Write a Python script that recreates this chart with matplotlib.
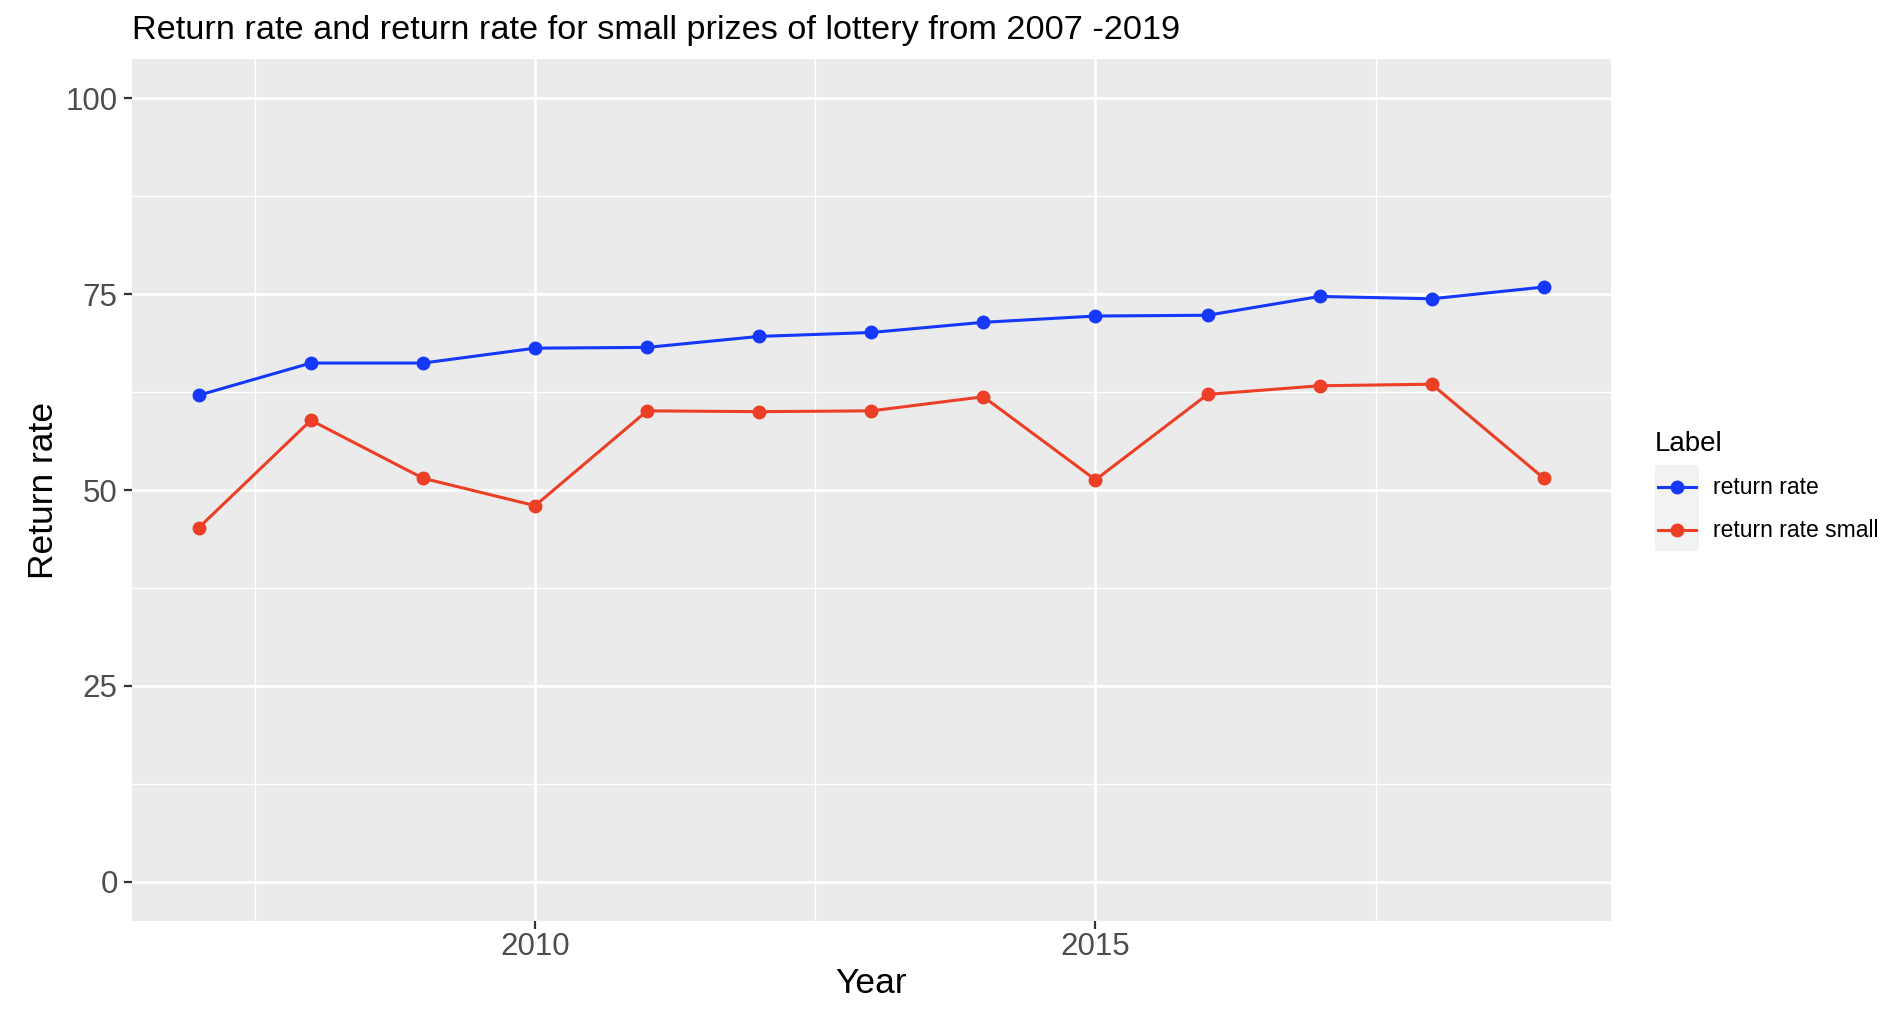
import matplotlib
matplotlib.use("Agg")
import matplotlib.pyplot as plt
from matplotlib.lines import Line2D
from matplotlib.patches import Rectangle
from matplotlib.legend_handler import HandlerBase

plt.rcParams["font.family"] = ["Liberation Sans", "DejaVu Sans"]

# data
years = [2007, 2008, 2009, 2010, 2011, 2012, 2013, 2014, 2015, 2016, 2017, 2018, 2019]
return_rate = [62.1, 66.2, 66.2, 68.1, 68.2, 69.6, 70.1, 71.4, 72.2, 72.3, 74.7, 74.4, 75.9]
return_rate_small = [45.2, 58.9, 51.5, 48.0, 60.1, 60.0, 60.1, 61.9, 51.3, 62.2, 63.3, 63.5, 51.5]
labels = ["return rate", "return rate small"]
colors = ["#1538FB", "#EC3F26"]


# ggplot-like legend key: grey box, line across, point in the middle
class KeyHandler(HandlerBase):
    def create_artists(self, legend, orig_handle, xdescent, ydescent, width, height, fontsize, trans):
        bg = Rectangle((-xdescent, -ydescent), width, height, facecolor="#F2F2F2",
                       edgecolor="none", transform=trans)
        yc = -ydescent + height / 2
        x0 = -xdescent
        ln = Line2D([x0 + 0.07 * width, x0 + 0.93 * width], [yc, yc],
                    color=orig_handle.get_color(), lw=2.2, transform=trans)
        mk = Line2D([x0 + width / 2], [yc], ls="none", marker="o", ms=9,
                    color=orig_handle.get_color(), transform=trans)
        return [bg, ln, mk]


fig = plt.figure(figsize=(18.92, 10.10), dpi=100)
ax = fig.add_axes([131.6 / 1892, 1 - 921 / 1010, (1611 - 131.6) / 1892, (921 - 59) / 1010])
ax.set_facecolor("#EBEBEB")

lines = []
for vals, c in zip([return_rate, return_rate_small], colors):
    l, = ax.plot(years, vals, color=c, lw=2.2, marker="o", ms=9, zorder=3)
    lines.append(l)

ax.set_xlim(2006.4, 2019.6)
ax.set_ylim(-5, 105)
ax.set_xticks([2010, 2015])
ax.set_yticks([0, 25, 50, 75, 100])
ax.set_xticks([2007.5, 2012.5, 2017.5], minor=True)
ax.set_yticks([12.5, 37.5, 62.5, 87.5], minor=True)
ax.grid(which="major", color="white", lw=1.9)
ax.grid(which="minor", color="white", lw=0.95)
ax.set_axisbelow(True)
for s in ax.spines.values():
    s.set_visible(False)
ax.tick_params(axis="both", which="major", labelsize=22.5, labelcolor="#4D4D4D",
               color="#333333", length=6, width=1.6, pad=4)
ax.tick_params(axis="x", which="major", pad=2)
ax.tick_params(which="minor", length=0)

ax.set_xlabel("Year", fontsize=25.5, labelpad=3.5)
ax.set_ylabel("Return rate", fontsize=25.5, labelpad=4)
fig.text(132 / 1892, 1 - 39 / 1010, "Return rate and return rate for small prizes of lottery from 2007 -2019",
         fontsize=24.7, ha="left", va="baseline")

leg = fig.legend(lines, labels, title="Label", loc="upper left",
                 bbox_to_anchor=(1655 / 1892, 1 - 431 / 1010), frameon=False,
                 fontsize=16.5, title_fontsize=20, handlelength=1.92, handleheight=2.51,
                 handletextpad=0.6, labelspacing=0, borderaxespad=0, borderpad=0,
                 handler_map={Line2D: KeyHandler()})
leg._legend_box.align = "left"
leg._legend_box.sep = 6

fig.savefig("out.png", dpi=100)
